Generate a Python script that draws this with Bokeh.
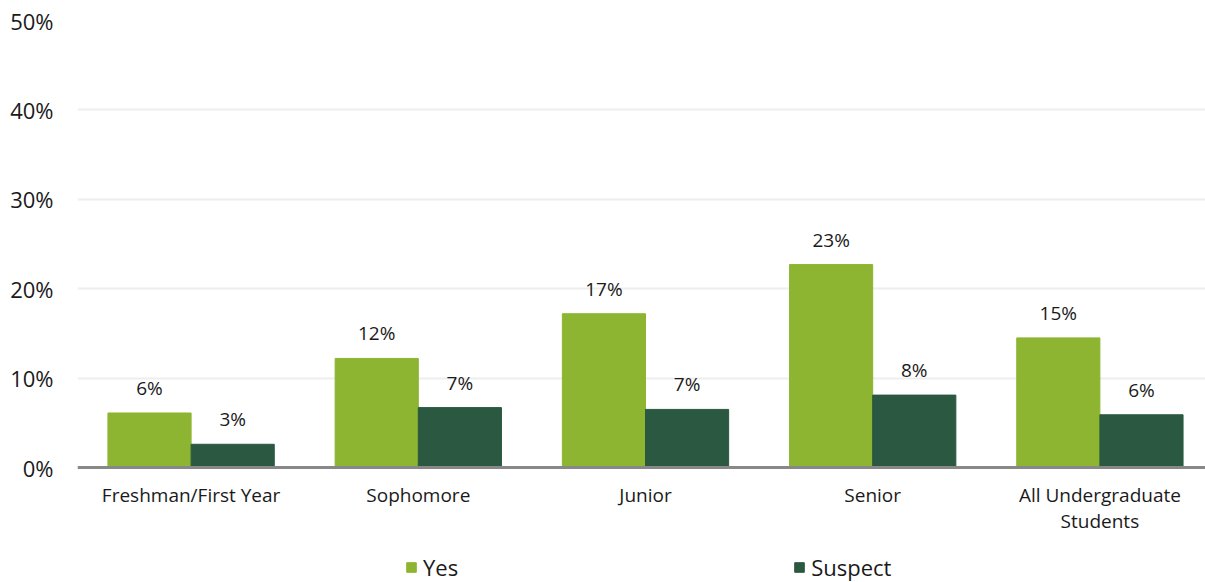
from bokeh.plotting import figure
from bokeh.models import ColumnDataSource, Range1d, Legend, LegendItem, FixedTicker, CustomJSTickFormatter, Span
from bokeh.core.properties import value
from bokeh.embed import file_html
from bokeh.resources import INLINE

categories = ["Freshman/First Year", "Sophomore", "Junior", "Senior", "All Undergraduate\nStudents"]
yes_values = [6.1, 12.2, 17.2, 22.7, 14.5]
suspect_values = [2.6, 6.7, 6.5, 8.1, 5.9]
series_names = ["Yes", "Suspect"]
y_ticks = [0, 10, 20, 30, 40, 50]

YES_COLOR = "#8DB531"
SUS_COLOR = "#2A5841"
FONT = "Open Sans"
TXT = "#1a1a1a"

def fmt(v):
    return f"{int(v + 0.5)}%"

bw = 0.366
centers = [i + 0.5 for i in range(len(categories))]
src = ColumnDataSource(dict(
    xc=centers,
    xy=[c - bw / 2 for c in centers],
    xs=[c + bw / 2 for c in centers],
    yes=yes_values,
    sus=suspect_values,
    yes_lbl=[fmt(v) for v in yes_values],
    sus_lbl=[fmt(v) for v in suspect_values],
    cat=categories,
    base=[0] * len(categories),
))

# frame spans from top (50%) to the bottom of the canvas; the area below 0
# holds the category labels and the legend
p = figure(
    width=1205, height=582,
    x_range=Range1d(0, len(categories) * 1128 / 1136),
    y_range=Range1d(-12.86, 50),
    output_backend="svg", toolbar_location=None,
    x_axis_location=None,
    min_border_left=77, min_border_right=0, min_border_top=20, min_border_bottom=0,
)
p.outline_line_color = None
p.background_fill_color = "white"
p.border_fill_color = "white"

p.xgrid.grid_line_color = None
p.ygrid.grid_line_color = "#EEEEEE"
p.ygrid.grid_line_width = 2
p.ygrid.ticker = FixedTicker(ticks=y_ticks[1:])

r_yes = p.vbar(x="xy", top="yes", bottom="base", width=bw, source=src,
               fill_color=YES_COLOR, line_color=YES_COLOR)
r_sus = p.vbar(x="xs", top="sus", bottom="base", width=bw, source=src,
               fill_color=SUS_COLOR, line_color=SUS_COLOR)

p.add_layout(Span(location=0, dimension="width", line_color="#888888", line_width=3))

p.text(x="xy", y="yes", text="yes_lbl", source=src,
       text_align="center", text_baseline="bottom", y_offset=-12,
       text_font=value(FONT), text_font_size="19px", text_color=TXT)
p.text(x="xs", y="sus", text="sus_lbl", source=src,
       text_align="center", text_baseline="bottom", y_offset=-12,
       text_font=value(FONT), text_font_size="19px", text_color=TXT)

# category labels
p.text(x="xc", y="base", text="cat", source=src,
       text_align="center", text_baseline="top", y_offset=14,
       text_line_height=1.0,
       text_font=value(FONT), text_font_size="19px", text_color=TXT)

# y axis
p.yaxis.ticker = FixedTicker(ticks=y_ticks)
p.yaxis.formatter = CustomJSTickFormatter(code="return tick + '%';")
p.yaxis.axis_line_color = None
p.yaxis.major_tick_line_color = None
p.yaxis.minor_tick_line_color = None
p.yaxis.major_label_text_font = FONT
p.yaxis.major_label_text_font_size = "22px"
p.yaxis.major_label_text_color = TXT
p.yaxis.major_label_standoff = 18

legend = Legend(
    items=[LegendItem(label=series_names[0], renderers=[r_yes]),
           LegendItem(label=series_names[1], renderers=[r_sus])],
    orientation="horizontal",
    location=(328, 0),
    spacing=335,
    glyph_width=12, glyph_height=12,
    label_standoff=6,
    padding=0, margin=0,
    border_line_color=None,
    background_fill_alpha=0,
    label_text_font=FONT,
    label_text_font_size="22px",
    label_text_color=TXT,
)
p.add_layout(legend, "center")

open("out.html", "w").write(file_html(p, INLINE))
